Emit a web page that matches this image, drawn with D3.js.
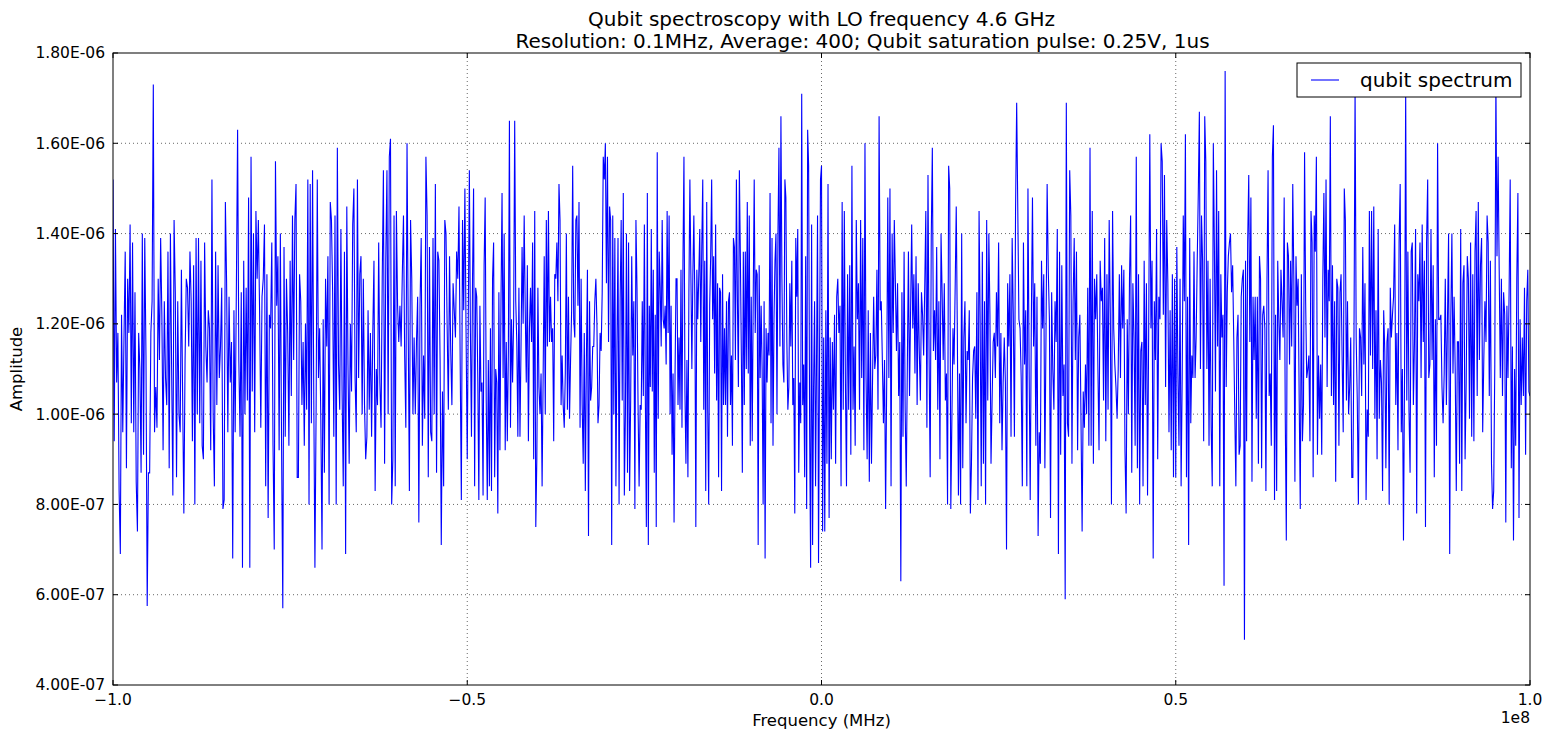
<!DOCTYPE html>
<html>
<head>
<meta charset="utf-8">
<script src="https://cdn.jsdelivr.net/npm/d3@7"></script>
<style>
  body { margin: 0; background: #fff; }
  text { font-family: "DejaVu Sans", sans-serif; fill: #000; }
</style>
</head>
<body>
<div id="chart"></div>
<script>
// amplitude readings, units of 1e-6, one array per 25 MHz slice of the sweep
const amp1 = [1.52,0.94,1.41,1.07,1.18,0.83,0.69,1.22,0.96,1.17,1.36,0.88,1.30,1.18,1.42,0.98,1.38,0.96,1.27,0.85,0.74,1.18,1.10,0.87,1.40,0.91,1.39,1.13,0.575,0.87,0.87,1.18,1.25,1.73,0.96,1.06,0.97,1.30,1.12,1.39,1.22,0.92,1.25,1.08,1.02,1.36,0.88,1.40,1.10,0.82,1.43,1.27,0.86,1.25,1.00,0.96,1.32,1.04,0.78,1.12,1.30,1.28,1.15,1.36,1.25,0.94,1.33,0.80,1.39,1.00,1.39,0.98,1.34,0.93,0.90,1.38,1.15,1.07,1.23,1.19,0.92,1.52,1.00,0.84,1.36,1.02,1.33,1.08,1.15,1.28,0.79,0.81,1.47,1.29,0.96,1.26,1.07,1.16,0.68,1.23,0.96,1.28,1.63,1.12,0.95,1.27,0.66,1.34,1.00,1.28,1.03,1.48,0.66,1.57,1.05,1.40,0.96,1.45,1.30,1.43,1.23,0.97,1.26,1.30,1.42,0.84,1.31,0.77,1.22,1.19,1.38,0.93,0.70,1.56,1.24,1.35,0.92,1.40,0.93,0.57,1.37,0.95,1.30,1.18,0.93];
const amp2 = [1.34,1.04,1.44,1.12,1.43,1.51,0.86,0.86,1.31,1.25,1.02,1.16,0.93,1.20,1.01,1.52,0.80,1.51,0.98,1.54,1.05,0.66,1.01,1.52,1.08,1.19,0.99,0.70,1.21,0.87,1.30,1.15,1.35,0.80,1.47,1.43,1.27,0.95,1.44,0.80,1.59,1.11,1.01,1.41,1.05,0.84,1.36,0.69,1.46,1.11,0.89,1.20,1.05,1.42,1.50,1.08,0.96,1.52,1.08,1.31,1.35,1.00,1.30,1.02,0.90,0.95,1.23,1.01,1.18,0.95,1.18,1.34,0.83,1.10,1.02,1.38,1.07,0.97,1.30,1.54,0.89,1.34,1.54,1.00,1.57,1.61,0.80,0.90,1.44,0.84,1.45,1.24,1.16,1.24,1.15,1.31,1.44,1.13,0.97,1.60,1.19,0.83,1.43,1.30,1.00,1.17,1.00,1.16,1.26,0.76,1.24,1.39,0.93,1.13,0.99,1.57,1.44,0.86,1.37,0.96,0.94,1.39,1.00,1.51,0.87,1.36,1.34,1.12,0.71,1.05,0.84,1.43,1.40,1.19,1.01,1.35,1.14,1.02,1.29,1.23,1.17,1.36,1.30,1.46,1.12,0.81,1.43,1.23,1.50,1.18];
const amp3 = [0.90,1.22,1.54,1.18,0.95,1.30,1.50,0.84,1.28,1.26,1.08,0.81,1.24,1.05,1.07,0.82,1.33,1.48,1.03,0.81,1.12,0.84,1.19,0.83,1.30,1.38,0.86,1.10,1.07,0.78,1.27,0.92,1.25,1.49,1.08,1.40,0.92,1.16,0.94,1.14,1.65,0.97,1.21,1.07,1.21,1.65,1.25,1.16,0.95,1.28,0.95,1.15,1.37,1.20,1.44,1.23,1.07,1.33,0.94,1.19,1.28,1.16,1.38,0.90,1.45,0.75,0.90,1.28,1.06,1.00,1.09,0.84,1.09,1.35,1.00,1.43,1.15,1.45,1.16,1.26,1.16,1.19,0.94,1.31,1.30,1.38,1.25,1.51,1.43,1.02,1.13,1.02,0.97,1.09,1.40,1.01,1.26,0.99,1.12,1.23,1.55,1.21,1.17,1.43,1.44,1.24,1.47,0.97,1.30,1.02,0.89,1.18,0.83,1.12,1.32,0.73,1.25,1.03,1.06,1.15,1.15,1.25,1.30,1.20,0.98,1.02,1.18,1.14,1.27,1.57,1.52,1.60,1.29,1.57,1.16,1.46,1.43,0.71,1.44,1.00,1.39,0.84,1.15,1.39,0.80,1.25,1.43,1.03,1.49,0.82,1.00,1.40,0.87,1.38,0.83,1.03,1.35,1.13,1.25,0.79,1.43,1.28,1.02,0.84,1.02,1.01,1.25,1.04];
const amp4 = [1.42,1.03,0.75,1.49,0.71,1.24,1.06,1.41,1.05,1.32,0.87,1.22,0.75,1.58,0.99,1.36,1.28,1.15,1.43,1.21,1.19,1.24,1.11,1.45,1.18,1.44,1.00,1.24,0.91,1.09,0.76,1.09,1.30,1.30,1.02,1.17,1.01,1.32,0.97,1.34,1.57,1.05,0.89,1.12,0.86,1.27,1.52,1.31,1.10,1.31,1.44,1.25,0.75,1.32,1.21,1.31,1.41,1.16,1.37,1.52,1.01,1.34,0.83,1.47,1.01,0.80,1.24,1.35,1.52,1.21,1.35,1.09,1.42,1.03,1.29,0.86,1.28,1.27,0.83,1.31,1.02,1.19,1.02,1.25,0.95,1.25,1.27,1.02,1.13,0.93,1.39,1.37,1.12,1.52,1.26,1.06,1.54,1.35,1.13,0.87,1.36,1.02,1.36,1.10,1.47,1.09,1.44,0.93,1.26,0.94,1.26,1.52,1.18,1.32,1.31,0.71,1.33,1.08,1.24,1.10,0.80,1.25,0.68,1.19,1.07,1.18,1.13,1.49,0.98,1.39,0.93,1.21,1.34,1.40,1.00,1.40,1.59,1.15,1.66,1.30,1.11,1.07,1.52,1.48,1.16,1.01,1.06,1.29,1.15,1.34,1.02,1.08,0.78,1.39,1.26,1.41,0.87,1.07,0.98,1.71,1.02,1.11,0.86,1.35,0.79,1.63,1.55,0.97,0.66,1.42,0.71,1.06,1.25,0.84,1.12,1.44,0.67,1.12,1.52];
const amp5 = [1.55,0.74,1.17,0.74,1.23,0.89,1.51,0.77,1.17,0.90,1.16,1.01,1.22,0.89,1.26,1.30,1.18,1.24,0.84,1.47,1.01,1.45,1.07,0.84,1.31,1.01,1.33,0.91,1.55,1.01,1.15,0.93,1.43,1.21,1.29,1.01,1.43,1.08,1.39,0.92,1.60,1.08,0.90,1.23,0.85,1.18,0.89,1.08,1.26,1.10,1.13,1.32,1.01,1.66,1.23,1.25,1.12,0.98,1.12,0.79,1.07,1.48,1.08,1.50,0.84,1.40,1.18,1.43,1.29,1.14,1.29,1.04,1.16,0.63,1.27,0.95,1.36,1.01,0.84,1.11,1.36,1.04,1.23,1.42,1.19,1.31,1.09,1.35,1.02,1.29,1.14,1.03,1.27,1.22,1.13,1.28,1.45,0.97,1.53,1.13,0.86,1.39,1.59,1.14,1.23,1.12,1.37,1.01,1.25,0.90,1.40,1.27,1.12,1.29,1.03,1.09,0.80,1.55,1.50,0.79,0.99,1.19,1.11,1.28,1.46,1.18,0.82,1.09,0.80,1.40,0.88,1.17,1.25,0.98,1.14,1.12,1.23,0.78,0.89,1.08,1.14,1.15,0.99,1.27,0.81,1.45,1.21,0.84,1.36,0.89,1.25,0.80,1.43,1.03,1.40,1.22,0.89,1.03,1.16,1.18,1.08,1.27,1.15];
const amp6 = [1.38,0.98,1.18,0.92,1.07,1.17,1.07,0.70,1.29,1.15,1.31,0.95,1.39,1.22,0.95,1.45,1.69,1.45,1.21,1.19,1.08,0.84,1.38,1.11,1.23,0.84,1.50,1.11,0.81,1.21,1.48,1.15,1.29,0.93,1.26,0.73,0.96,0.89,1.34,1.19,1.31,0.88,1.18,1.51,1.32,1.21,0.77,1.27,1.10,1.01,1.25,1.16,1.41,0.69,1.36,0.91,1.33,1.04,1.11,0.59,1.69,0.98,0.95,1.54,1.44,0.89,1.25,1.39,1.12,1.36,0.92,1.17,1.22,0.99,0.74,1.05,0.97,1.11,1.00,1.28,0.93,1.59,0.93,1.45,0.89,1.30,1.21,1.31,1.10,0.92,1.34,1.25,1.28,1.03,1.39,0.94,1.31,1.01,1.43,1.22,0.80,1.45,1.19,1.11,1.06,0.99,1.10,1.31,1.08,1.33,1.19,1.32,0.92,0.78,1.21,1.00,1.30,1.44,0.87,1.29,1.17,0.93,1.57,0.88,1.31,0.80,1.14,1.16,0.84,1.34,1.02,1.29,0.82,1.18,1.62,1.19,1.34,0.68,1.25,1.12,1.41,0.90,1.26,1.21,1.60,1.56,1.22,1.53,1.06,1.43,1.29,0.96,1.23,0.92,1.31,0.86,1.30];
const amp7 = [0.86,1.37,1.09,0.93,1.30,0.84,1.08,1.44,1.25,1.62,0.86,1.26,0.71,1.39,0.98,1.13,1.08,1.36,1.08,1.17,1.34,1.49,1.67,1.10,1.44,1.34,0.94,1.66,1.56,1.10,1.34,0.93,1.30,0.97,0.84,1.60,1.37,1.05,1.54,1.15,1.45,0.84,1.31,1.17,1.22,0.62,1.76,1.06,1.27,1.35,1.38,1.40,1.27,1.33,1.17,1.00,0.84,1.17,1.22,0.91,0.93,1.26,1.30,1.32,0.50,1.34,0.94,1.38,1.53,1.16,1.48,0.85,1.26,1.12,1.26,0.99,1.26,0.89,1.35,1.30,0.88,1.22,1.24,1.19,0.83,1.30,1.54,1.04,1.09,0.93,1.57,1.64,0.81,1.22,0.83,1.34,1.21,1.12,1.32,1.25,1.17,1.48,1.00,0.72,1.38,1.35,1.11,1.34,1.15,1.51,1.30,0.85,1.35,1.24,1.30,1.03,0.79,1.31,0.94,1.02,1.58,1.25,1.08,1.10,1.13,0.94,1.45,1.38,0.86,1.44,1.36,1.57,0.91,1.13,0.99,1.11,0.91,1.30,1.49,1.17,1.52,1.06,1.32,1.25,1.66,1.04,1.33,1.02,1.25,0.85,1.30,1.28,0.93,1.27,1.31,1.12,0.96,1.50,1.43,1.03,1.25,1.00,1.06,1.17,0.86];
const amp8 = [0.86,1.17,1.72,1.17,1.03,0.80,1.19,1.17,1.04,1.37,1.11,1.29,0.81,1.01,0.95,1.45,1.13,1.45,1.10,1.46,0.99,1.23,0.90,1.41,0.99,1.12,1.07,0.83,1.23,1.14,0.88,1.16,1.19,0.80,1.28,1.17,1.22,1.26,1.42,1.02,1.18,0.92,1.38,1.51,0.96,1.10,0.72,1.10,1.72,1.03,1.36,1.01,0.87,1.36,1.38,1.02,1.16,1.41,0.78,1.31,1.25,1.38,1.08,1.42,1.16,1.34,0.75,1.38,1.52,1.08,1.11,1.41,1.12,1.33,0.86,1.21,0.93,1.60,1.21,1.21,1.22,1.06,0.98,1.09,1.30,1.02,1.21,1.40,0.69,1.21,1.40,1.09,1.26,1.10,0.83,1.16,1.16,0.89,1.41,0.83,1.29,1.33,0.90,1.07,1.35,1.30,0.99,1.38,0.95,1.31,0.94,1.36,1.45,1.04,1.47,1.12,1.33,1.39,0.96,1.12,1.25,1.16,1.44,1.38,1.04,1.34,0.89,0.79,0.83,1.11,1.74,1.35,1.57,1.32,1.08,1.30,1.04,1.27,1.22,0.76,1.24,1.08,1.27,1.52,0.88,1.15,0.72,1.10,0.93,1.30,1.49,0.77,1.21,1.02,1.17,1.04,1.28,0.91,1.25,1.32,1.05,1.04];
const segments = [amp1, amp2, amp3, amp4, amp5, amp6, amp7, amp8];

const xTicks = [-1e8, -0.5e8, 0, 0.5e8, 1e8];
const xTickLabels = ["\u22121.0", "\u22120.5", "0.0", "0.5", "1.0"];
const yTicks = [0.4, 0.6, 0.8, 1.0, 1.2, 1.4, 1.6, 1.8]; // x 1e-6

const titleLines = ["Qubit spectroscopy with LO frequency 4.6 GHz",
                    "Resolution: 0.1MHz, Average: 400; Qubit saturation pulse: 0.25V, 1us"];

// frequency sweep -100 MHz .. +100 MHz, each slice spread over its 25 MHz
const fStart = -1e8, fStop = 1e8;
const segWidth = (fStop - fStart) / segments.length;
const data = [];
segments.forEach((seg, k) => {
    const n = k === segments.length - 1 ? seg.length - 1 : seg.length;
    seg.forEach((v, i) => {
        data.push({ f: fStart + k * segWidth + i * segWidth / n, a: v * 1e-6 });
    });
});

const width = 1554, height = 738;
const margin = { top: 53, right: 24, bottom: 53, left: 113 };
const iw = width - margin.left - margin.right;
const ih = height - margin.top - margin.bottom;

const x = d3.scaleLinear().domain([fStart, fStop]).range([0, iw]);
const y = d3.scaleLinear().domain([0.4e-6, 1.8e-6]).range([ih, 0]);

function sci(d) {
    // 1.80E-06 style
    let [m, e] = d.toExponential(2).toUpperCase().split("E");
    const sign = e[0] === "-" ? "-" : "+";
    e = e.replace(/[+-]/, "");
    if (e.length < 2) e = "0" + e;
    return m + "E" + sign + e;
}

const svg = d3.select("#chart").append("svg")
    .attr("width", width).attr("height", height);

const g = svg.append("g").attr("transform", `translate(${margin.left},${margin.top})`);

g.append("clipPath").attr("id", "clip")
  .append("rect").attr("width", iw).attr("height", ih);

// grid
g.append("g").selectAll("line").data(xTicks.slice(1, -1)).join("line")
    .attr("x1", d => x(d)).attr("x2", d => x(d))
    .attr("y1", 0).attr("y2", ih)
    .attr("stroke", "#000").attr("stroke-width", 0.6).attr("stroke-dasharray", "1,3");
g.append("g").selectAll("line").data(yTicks.slice(1, -1)).join("line")
    .attr("x1", 0).attr("x2", iw)
    .attr("y1", d => y(d * 1e-6)).attr("y2", d => y(d * 1e-6))
    .attr("stroke", "#000").attr("stroke-width", 0.6).attr("stroke-dasharray", "1,3");

// spectrum
const line = d3.line().x(d => x(d.f)).y(d => y(d.a));
g.append("path").datum(data)
    .attr("clip-path", "url(#clip)")
    .attr("fill", "none")
    .attr("stroke", "#0000ff")
    .attr("stroke-width", 1.1)
    .attr("d", line);

// ticks, inward on all four sides
const tl = 5;
xTicks.forEach(t => {
    g.append("line").attr("x1", x(t)).attr("x2", x(t)).attr("y1", ih).attr("y2", ih - tl).attr("stroke", "#000");
    g.append("line").attr("x1", x(t)).attr("x2", x(t)).attr("y1", 0).attr("y2", tl).attr("stroke", "#000");
});
yTicks.forEach(t => {
    g.append("line").attr("x1", 0).attr("x2", tl).attr("y1", y(t * 1e-6)).attr("y2", y(t * 1e-6)).attr("stroke", "#000");
    g.append("line").attr("x1", iw).attr("x2", iw - tl).attr("y1", y(t * 1e-6)).attr("y2", y(t * 1e-6)).attr("stroke", "#000");
});

g.append("g").selectAll("text").data(xTicks).join("text")
    .attr("x", d => x(d)).attr("y", ih + 20)
    .attr("text-anchor", "middle").attr("font-size", 15.5)
    .text((d, i) => xTickLabels[i]);
g.append("g").selectAll("text").data(yTicks).join("text")
    .attr("x", -8).attr("y", d => y(d * 1e-6)).attr("dy", "0.35em")
    .attr("text-anchor", "end").attr("font-size", 15.5)
    .text(d => sci(d * 1e-6));

g.append("text").attr("x", iw).attr("y", ih + 38)
    .attr("text-anchor", "end").attr("font-size", 15.5).text("1e8");

// frame
g.append("rect").attr("width", iw).attr("height", ih)
    .attr("fill", "none").attr("stroke", "#000").attr("stroke-width", 1);

// axis labels
g.append("text").attr("x", iw / 2).attr("y", ih + 41)
    .attr("text-anchor", "middle").attr("font-size", 16.5).text("Frequency (MHz)");
g.append("text").attr("transform", `translate(${-91},${ih / 2}) rotate(-90)`)
    .attr("text-anchor", "middle").attr("font-size", 16.5).text("Amplitude");

// title (second line sits a little right of centre, as in the original)
svg.selectAll(".title").data(titleLines).join("text")
    .attr("class", "title")
    .attr("x", (d, i) => margin.left + iw / 2 + i * 41).attr("y", (d, i) => 26 + i * 22)
    .attr("text-anchor", "middle").attr("font-size", 20)
    .text(d => d);

// legend
const lg = g.append("g").attr("transform", `translate(${iw - 233},10)`);
lg.append("rect").attr("width", 224).attr("height", 34)
    .attr("fill", "#fff").attr("stroke", "#000").attr("stroke-width", 1);
lg.append("line").attr("x1", 14).attr("x2", 42).attr("y1", 17).attr("y2", 17)
    .attr("stroke", "#0000ff").attr("stroke-width", 1.1);
lg.append("text").attr("x", 63).attr("y", 17).attr("dy", "0.35em")
    .attr("font-size", 20).text("qubit spectrum");
</script>
</body>
</html>
